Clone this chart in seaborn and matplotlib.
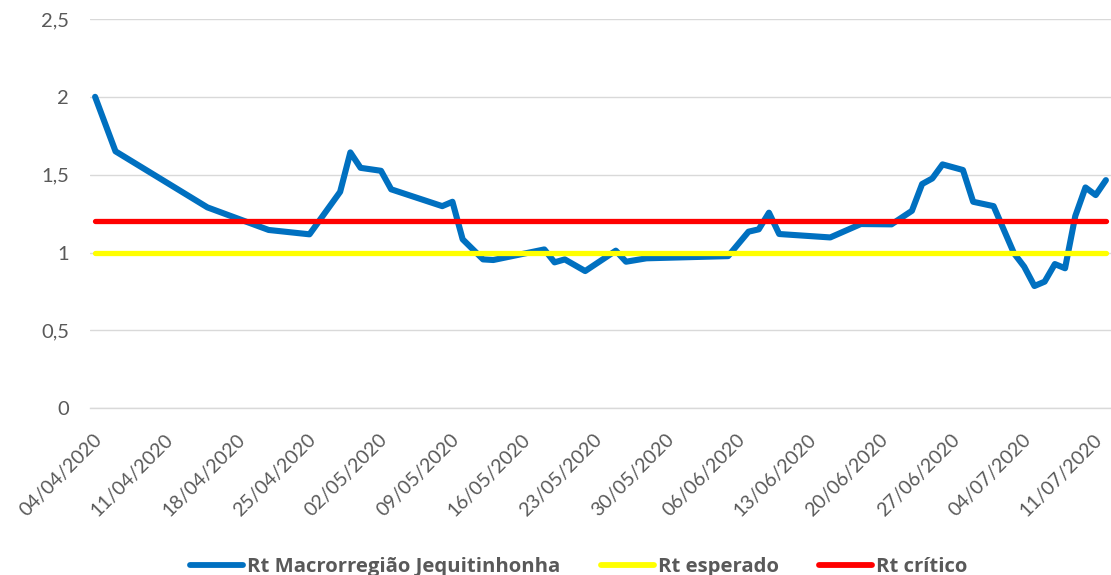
import matplotlib
matplotlib.use("Agg")
import matplotlib.pyplot as plt
import matplotlib.dates as mdates
import matplotlib.transforms as mtransforms
from matplotlib.ticker import FuncFormatter, MultipleLocator
import pandas
import seaborn

# Rt series (dd/mm/yyyy)
DATES = [
    "04/04/2020", "06/04/2020", "15/04/2020", "21/04/2020", "25/04/2020",
    "28/04/2020", "29/04/2020", "30/04/2020", "02/05/2020", "03/05/2020",
    "08/05/2020", "09/05/2020", "10/05/2020", "12/05/2020", "13/05/2020",
    "18/05/2020", "19/05/2020", "20/05/2020", "22/05/2020", "25/05/2020",
    "26/05/2020", "28/05/2020", "05/06/2020", "07/06/2020", "08/06/2020",
    "09/06/2020", "10/06/2020", "15/06/2020", "18/06/2020", "21/06/2020",
    "23/06/2020", "24/06/2020", "25/06/2020", "26/06/2020", "28/06/2020",
    "29/06/2020", "01/07/2020", "03/07/2020", "04/07/2020", "05/07/2020",
    "06/07/2020", "07/07/2020", "08/07/2020", "09/07/2020", "10/07/2020",
    "11/07/2020", "12/07/2020",
]
RT_MACRO = [
    2.00, 1.65, 1.29, 1.145, 1.117,
    1.39, 1.643, 1.544, 1.525, 1.406,
    1.298, 1.326, 1.085, 0.956, 0.952,
    1.02, 0.937, 0.956, 0.881, 1.012,
    0.941, 0.963, 0.977, 1.134, 1.149,
    1.256, 1.119, 1.097, 1.183, 1.181,
    1.268, 1.44, 1.476, 1.566, 1.53,
    1.326, 1.298, 0.995, 0.909, 0.785,
    0.813, 0.926, 0.899, 1.234, 1.418,
    1.369, 1.465,
]
RT_ESPERADO = 1.0
RT_CRITICO = 1.2

SERIES = ["Rt Macrorregião Jequitinhonha", "Rt esperado", "Rt crítico"]
PALETTE = {
    "Rt Macrorregião Jequitinhonha": "#0070C0",
    "Rt esperado": "#FFFF00",
    "Rt crítico": "#FF0000",
}
WIDTHS = {
    "Rt Macrorregião Jequitinhonha": 4.4,
    "Rt esperado": 3.8,
    "Rt crítico": 3.8,
}
TEXT_COLOR = "#595959"
GRID_COLOR = "#D9D9D9"


def comma_formatter(x, pos):
    return f"{x:g}".replace(".", ",")


def build_df():
    n = len(DATES)
    df = pandas.DataFrame({
        "date": DATES * 3,
        "serie": [SERIES[0]] * n + [SERIES[1]] * n + [SERIES[2]] * n,
        "value": RT_MACRO + [RT_ESPERADO] * n + [RT_CRITICO] * n,
    })
    # excel date axis puts each point in the middle of its day
    df["x"] = pandas.to_datetime(df["date"], format="%d/%m/%Y") + pandas.Timedelta(hours=12)
    return df


def draw_graph():
    seaborn.set_style("white")
    plt.rcParams["font.family"] = ["Lato", "DejaVu Sans"]

    fig = plt.figure(figsize=(11.11, 5.75), dpi=100)
    ax = fig.add_axes([0.081, 0.29, 0.919, 0.677])

    df = build_df()
    seaborn.lineplot(data=df, x="x", y="value", hue="serie", hue_order=SERIES,
                     palette=PALETTE, linewidth=3.6, sort=False, ax=ax)
    for line, serie in zip(ax.lines, SERIES):
        line.set_linewidth(WIDTHS[serie])
        line.set_solid_capstyle("round")
        line.set_solid_joinstyle("round")

    ax.set_xlim(pandas.Timestamp("2020-04-04"), pandas.Timestamp("2020-07-13"))
    ax.set_ylim(0, 2.5)
    ax.yaxis.set_major_locator(MultipleLocator(0.5))
    ax.yaxis.set_major_formatter(FuncFormatter(comma_formatter))
    ax.set_xticks(pandas.date_range("2020-04-04", "2020-07-11", freq="7D"))
    ax.xaxis.set_major_formatter(mdates.DateFormatter("%d/%m/%Y"))

    ax.grid(True, axis="y", color=GRID_COLOR, linewidth=1)
    ax.set_axisbelow(True)
    for side in ["top", "right", "left"]:
        ax.spines[side].set_visible(False)
    ax.spines["bottom"].set_color(GRID_COLOR)
    ax.spines["bottom"].set_linewidth(1)

    ax.tick_params(axis="y", length=0, pad=15, labelsize=14.5, labelcolor=TEXT_COLOR)
    ax.tick_params(axis="x", direction="out", length=5, width=1, color=GRID_COLOR,
                   pad=6, labelsize=14, labelcolor=TEXT_COLOR)
    shift = mtransforms.ScaledTranslation(3 / 100, -7 / 100, fig.dpi_scale_trans)
    for label in ax.get_xticklabels():
        label.set_rotation(45)
        label.set_ha("right")
        label.set_va("top")
        label.set_rotation_mode("anchor")
        label.set_transform(label.get_transform() + shift)

    ax.set_xlabel("")
    ax.set_ylabel("")

    handles, labels = ax.get_legend_handles_labels()
    ax.get_legend().remove()
    for h in handles:
        h.set_linewidth(4.2)
        h.set_solid_capstyle("round")
    leg = fig.legend(handles, labels, loc="center", ncol=3, frameon=False,
                     bbox_to_anchor=(0.521, 0.014), handlelength=2.6,
                     handletextpad=0.2, columnspacing=2.0,
                     prop={"family": ["Open Sans", "DejaVu Sans"], "weight": "bold", "size": 14.6})
    for text in leg.get_texts():
        text.set_color(TEXT_COLOR)

    fig.savefig("out.png", dpi=100)


draw_graph()
